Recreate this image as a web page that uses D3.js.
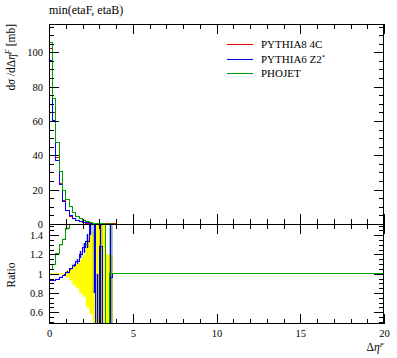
<!DOCTYPE html>
<html><head><meta charset="utf-8">
<script src="https://cdn.jsdelivr.net/npm/d3@7"></script>
<style>
body{margin:0;background:#fff;}
svg{display:block;font-family:"Liberation Serif","Times New Roman",serif !important;}
svg text{font-family:"Liberation Serif","Times New Roman",serif !important;fill:#000;}
</style></head>
<body><svg id="c" width="397" height="358" font-family="Liberation Serif"></svg>
<script>
// ---- data ----
const binEdges = [0,0.2,0.4,0.6,0.8,1.0,1.2,1.4,1.6,1.8,2.0,2.2,2.4,2.6,2.8,3.0,3.2,3.4,3.6,3.8,4.0,20];
const seriesNames = ["PYTHIA8 4C","PYTHIA6 Z2*","PHOJET"];
const pythia8 = [102,65,39,23.5,13.5,7.6,4.6,3.0,1.9,1.2,0.75,0.45,0.28,0.16,0.1,0.06,0.03,0.02,0.01,0.005,0];
const pythia6 = [95,60.4,37,22.8,13.3,7.7,4.8,3.25,2.1,1.45,0.95,0.6,0.45,0.3,0.05,0.08,0,0,0.01,0,0];
const phojet  = [106,73,47.7,30.6,19.7,14.2,10.2,6.5,4.4,3.0,2.0,1.3,0.8,0.5,0.3,0.2,0.1,0,0.01,0,0];
// ratio panel
const refBandLo = [0.997,0.997,0.996,0.995,0.99,0.96,0.93,0.88,0.85,0.8,0.76,0.65,0.58,0.3,0.3,0.3,0.3,0.3,0.3,1,1];
const refBandHi = [1.003,1.003,1.004,1.005,1.01,1.035,1.05,1.08,1.1,1.15,1.2,1.35,1.4,1.45,1.7,1.7,1.7,1.2,1.2,1,1];
const ratioP6    = [0.93,0.93,0.945,0.965,0.985,1.015,1.05,1.09,1.13,1.2,1.27,1.34,1.65,1.8,0,1.28,0,0,0.96,1,1];
const ratioP6Err = [0.004,0.004,0.005,0.006,0.008,0.01,0.012,0.016,0.025,0.04,0.05,0.07,0.25,1,1,1,0,0,1,0,0];
const ratioPho    = [1.04,1.1,1.21,1.3,1.36,1.47,2.2,2.2,2.3,2.5,2.7,2.9,2.9,3.1,3.0,3.3,3.3,0,1,1,1];
const ratioPhoErr = [0.004,0.005,0.008,0.01,0.012,0.016,0.03,0.04,0.05,0.06,0.08,0.1,0.15,0.2,0.3,0.4,0.5,0,1,0,0];
const xMajor = [0,5,10,15,20];
const yMajor = [0,20,40,60,80,100];
const rMajor = [0.6,0.8,1.0,1.2,1.4];
const rLabels = ["0.6","0.8","1","1.2","1.4"];

// ---- layout ----
const colors = ["#ff0000","#0000ff","#00a000"];
const FONT = '"Liberation Serif","Times New Roman",serif';
const L=49,R=384,T=24,M=224,B=324;
const svg = d3.select("#c");
const x = d3.scaleLinear().domain([0,20]).range([L,R]);
const y = d3.scaleLinear().domain([0,116.5]).range([M,T]);
const yr = d3.scaleLinear().domain([0.477,1.517]).range([B,M]);

const defs = svg.append("defs");
defs.append("clipPath").attr("id","cm").append("rect").attr("x",L).attr("y",T).attr("width",R-L).attr("height",M-T);
defs.append("clipPath").attr("id","cr").append("rect").attr("x",L).attr("y",M).attr("width",R-L).attr("height",B-M);

function stepPts(vals){
  const p = vals.map((v,i)=>[binEdges[i],v]);
  p.push([binEdges[vals.length], vals[vals.length-1]]);
  return p;
}
function stepLine(ys){ return d3.line().x(d=>x(d[0])).y(d=>ys(d[1])).curve(d3.curveStepAfter); }
function bandArea(ys){ return d3.area().x(d=>x(d[0])).y0(d=>ys(d[1])).y1(d=>ys(d[2])).curve(d3.curveStepAfter); }
function bandPts(lo,hi){
  const p = lo.map((v,i)=>[binEdges[i],v,hi[i]]);
  p.push([binEdges[lo.length], lo[lo.length-1], hi[hi.length-1]]);
  return p;
}

// main panel
const gm = svg.append("g").attr("clip-path","url(#cm)");
[pythia8,pythia6,phojet].forEach((s,i)=>{
  gm.append("path").attr("d",stepLine(y)(stepPts(s))).attr("fill","none").attr("stroke",colors[i])
    .attr("stroke-width",1).attr("shape-rendering","crispEdges");
});

// ratio panel
const gr = svg.append("g").attr("clip-path","url(#cr)");
gr.append("path").attr("d",bandArea(yr)(bandPts(refBandLo,refBandHi))).attr("fill","#ffff00").attr("stroke","none");
gr.append("path").attr("d",bandArea(yr)(bandPts(ratioP6.map((v,i)=>v-ratioP6Err[i]),ratioP6.map((v,i)=>v+ratioP6Err[i]))))
  .attr("fill","#0000ff").attr("fill-opacity",0.25);
gr.append("path").attr("d",bandArea(yr)(bandPts(ratioPho.map((v,i)=>v-ratioPhoErr[i]),ratioPho.map((v,i)=>v+ratioPhoErr[i]))))
  .attr("fill","#00a000").attr("fill-opacity",0.3);
gr.append("path").attr("d",stepLine(yr)(stepPts(ratioP6))).attr("fill","none").attr("stroke",colors[1])
  .attr("stroke-width",1).attr("shape-rendering","crispEdges");
gr.selectAll("line.eb").data(ratioP6.slice(0,20)).join("line").attr("class","eb")
  .attr("x1",(d,i)=>x((binEdges[i]+binEdges[i+1])/2)).attr("x2",(d,i)=>x((binEdges[i]+binEdges[i+1])/2))
  .attr("y1",(d,i)=>yr(d-ratioP6Err[i])).attr("y2",(d,i)=>yr(d+ratioP6Err[i]))
  .attr("stroke","#0000cc").attr("stroke-width",1).attr("shape-rendering","crispEdges");
gr.append("path").attr("d",stepLine(yr)(stepPts(ratioPho))).attr("fill","none").attr("stroke",colors[2])
  .attr("stroke-width",1).attr("shape-rendering","crispEdges");

// frames
svg.append("rect").attr("x",L+0.5).attr("y",T+0.5).attr("width",R-L-1).attr("height",M-T).attr("fill","none").attr("stroke","#000");
svg.append("rect").attr("x",L+0.5).attr("y",M+0.5).attr("width",R-L-1).attr("height",B-M-1).attr("fill","none").attr("stroke","#000");

// axes helpers
function styleAx(g){
  g.attr("font-family",FONT);
  g.select(".domain").remove();
  g.selectAll("text").style("font-family",FONT).style("font-size","10.5px");
  g.selectAll("line").attr("stroke","#000").attr("shape-rendering","crispEdges");
}
const xMinor = d3.range(0,21,1).filter(v=>v%5!==0);
const yMinor = d3.range(0,117,5).filter(v=>v%20!==0);
const rMinor = d3.range(0.5,1.51,0.05).map(v=>+v.toFixed(2)).filter(v=>Math.round(v*100)%20!==0);

svg.append("g").attr("transform",`translate(${L},0)`).call(d3.axisLeft(y).tickValues(yMajor).tickSize(-10).tickPadding(6)).call(styleAx);
svg.append("g").attr("transform",`translate(${L},0)`).call(d3.axisLeft(y).tickValues(yMinor).tickSize(-5).tickFormat("")).call(styleAx);
svg.append("g").attr("transform",`translate(${R},0)`).call(d3.axisRight(y).tickValues(yMajor).tickSize(-10).tickFormat("")).call(styleAx);
svg.append("g").attr("transform",`translate(${R},0)`).call(d3.axisRight(y).tickValues(yMinor).tickSize(-5).tickFormat("")).call(styleAx);
svg.append("g").attr("transform",`translate(0,${T})`).call(d3.axisTop(x).tickValues(xMajor).tickSize(-10).tickFormat("")).call(styleAx);
svg.append("g").attr("transform",`translate(0,${T})`).call(d3.axisTop(x).tickValues(xMinor).tickSize(-5).tickFormat("")).call(styleAx);
svg.append("g").attr("transform",`translate(0,${M})`).call(d3.axisBottom(x).tickValues(xMajor).tickSize(-10).tickFormat("")).call(styleAx);
svg.append("g").attr("transform",`translate(0,${M})`).call(d3.axisBottom(x).tickValues(xMinor).tickSize(-5).tickFormat("")).call(styleAx);
svg.append("g").attr("transform",`translate(${L},0)`).call(d3.axisLeft(yr).tickValues(rMajor).tickSize(-10).tickPadding(6).tickFormat((d,i)=>rLabels[i])).call(styleAx);
svg.append("g").attr("transform",`translate(${L},0)`).call(d3.axisLeft(yr).tickValues(rMinor).tickSize(-5).tickFormat("")).call(styleAx);
svg.append("g").attr("transform",`translate(${R},0)`).call(d3.axisRight(yr).tickValues(rMajor).tickSize(-10).tickFormat("")).call(styleAx);
svg.append("g").attr("transform",`translate(${R},0)`).call(d3.axisRight(yr).tickValues(rMinor).tickSize(-5).tickFormat("")).call(styleAx);
svg.append("g").attr("transform",`translate(0,${M})`).call(d3.axisTop(x).tickValues(xMajor).tickSize(-10).tickFormat("")).call(styleAx);
svg.append("g").attr("transform",`translate(0,${M})`).call(d3.axisTop(x).tickValues(xMinor).tickSize(-5).tickFormat("")).call(styleAx);
svg.append("g").attr("transform",`translate(0,${B})`).call(d3.axisBottom(x).tickValues(xMajor).tickSize(-10).tickPadding(6)).call(styleAx);
svg.append("g").attr("transform",`translate(0,${B})`).call(d3.axisBottom(x).tickValues(xMinor).tickSize(-5).tickFormat("")).call(styleAx);

// titles / labels
svg.append("text").attr("x",L).attr("y",14).style("font-size","12px").text("min(etaF, etaB)");
const yl = svg.append("text").attr("transform",`translate(15,${T}) rotate(-90)`).attr("text-anchor","end").style("font-size","11.5px");
yl.append("tspan").text("d");
yl.append("tspan").style("font-style","italic").text("σ");
yl.append("tspan").text(" /d");
yl.append("tspan").text("Δ");
yl.append("tspan").style("font-style","italic").text("η");
yl.append("tspan").style("font-style","italic").style("font-size","8px").attr("dy",-4).text("F");
yl.append("tspan").attr("dy",4).text(" [mb]");
svg.append("text").attr("transform",`translate(15,275) rotate(-90)`).attr("text-anchor","middle").style("font-size","11.5px").text("Ratio");
const xl = svg.append("text").attr("x",R).attr("y",351).attr("text-anchor","end").style("font-size","11.5px");
xl.append("tspan").text("Δ");
xl.append("tspan").style("font-style","italic").text("η");
xl.append("tspan").style("font-style","italic").style("font-size","7px").attr("dy",-4).text("F");

// legend
const legY = [44.5,59.5,73.5];
seriesNames.forEach((n,i)=>{
  svg.append("line").attr("x1",227).attr("x2",253).attr("y1",legY[i]).attr("y2",legY[i]).attr("stroke",colors[i]).attr("stroke-width",1);
  const t = svg.append("text").attr("x",261).attr("y",legY[i]+3.5).style("font-size","11px");
  if(n.endsWith("*")){ t.append("tspan").text(n.slice(0,-1)); t.append("tspan").attr("dy",-4).style("font-size","7px").text("*"); }
  else t.text(n);
});
</script></body></html>
